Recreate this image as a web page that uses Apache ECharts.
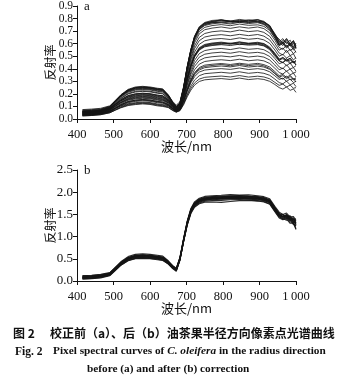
<!DOCTYPE html>
<html>
<head>
<meta charset="utf-8">
<script src="https://cdn.jsdelivr.net/npm/echarts@6/dist/echarts.min.js"></script>
<style>
  html, body { margin: 0; padding: 0; background: #fff; }
  #chart { width: 350px; height: 387px; }
</style>
</head>
<body>
<div id="chart"></div>
<script>
// Sampling wavelengths (nm) shared by every spectrum
const wavelengths = [415, 440, 465, 490, 505, 520, 540, 560, 580, 600, 620, 635, 650, 662, 672, 682, 692, 702, 712, 722, 735, 750, 770, 795, 820, 845, 870, 895, 912, 928, 942, 954, 964, 974, 984, 993, 1000];

// Panel a: pixel spectra before correction (reflectance)
const curvesA = [
  [.070,.074,.080,.100,.147,.193,.236,.255,.260,.255,.245,.240,.193,.134,.100,.128,.252,.417,.555,.659,.735,.769,.785,.790,.780,.793,.784,.791,.778,.742,.679,.615,.640,.600,.628,.575,.605],
  [.060,.064,.070,.095,.142,.188,.231,.250,.255,.250,.240,.235,.188,.129,.095,.123,.247,.412,.550,.654,.730,.764,.778,.787,.781,.776,.790,.782,.773,.738,.675,.630,.605,.640,.598,.622,.585],
  [.075,.079,.085,.105,.147,.189,.228,.245,.250,.245,.235,.230,.191,.140,.110,.137,.257,.418,.552,.653,.726,.760,.772,.783,.775,.781,.770,.779,.770,.733,.671,.600,.625,.610,.590,.615,.565],
  [.050,.055,.062,.090,.135,.180,.222,.240,.244,.241,.230,.226,.180,.123,.090,.117,.241,.405,.542,.645,.720,.754,.768,.772,.778,.768,.779,.773,.762,.728,.668,.612,.585,.625,.580,.605,.560],
  [.065,.068,.075,.100,.140,.181,.219,.235,.240,.236,.225,.220,.181,.130,.100,.127,.246,.406,.539,.639,.712,.745,.758,.766,.757,.770,.760,.767,.752,.718,.660,.590,.615,.578,.605,.565,.585],
  [.060,.063,.070,.090,.132,.174,.213,.230,.235,.231,.220,.215,.174,.121,.090,.116,.235,.394,.526,.625,.697,.730,.744,.752,.743,.756,.746,.750,.738,.705,.645,.585,.600,.565,.590,.550,.570],
  [.055,.058,.065,.085,.126,.166,.204,.220,.225,.221,.210,.205,.166,.115,.085,.111,.227,.382,.511,.607,.678,.711,.724,.733,.722,.734,.724,.733,.720,.686,.628,.570,.555,.590,.545,.565,.530],
  [.050,.054,.060,.080,.120,.161,.199,.215,.220,.216,.205,.200,.161,.110,.080,.105,.216,.365,.489,.582,.650,.681,.695,.702,.694,.708,.696,.703,.690,.658,.602,.548,.565,.530,.555,.520,.540],
  [.060,.063,.068,.085,.120,.154,.186,.200,.205,.201,.190,.185,.156,.114,.090,.113,.218,.357,.473,.560,.624,.653,.665,.672,.663,.674,.664,.673,.660,.630,.576,.525,.510,.548,.505,.520,.480],
  [.045,.048,.055,.075,.110,.144,.176,.190,.195,.191,.180,.175,.144,.100,.075,.098,.199,.335,.448,.533,.595,.623,.636,.641,.633,.646,.635,.642,.630,.602,.550,.500,.515,.485,.505,.470,.490],
  [.050,.053,.060,.080,.116,.152,.186,.200,.205,.201,.190,.185,.152,.106,.080,.101,.197,.324,.430,.509,.568,.594,.605,.612,.603,.614,.604,.611,.601,.573,.525,.478,.490,.465,.485,.450,.465],
  [.040,.044,.050,.070,.102,.133,.162,.175,.180,.176,.165,.160,.133,.093,.070,.091,.187,.314,.420,.499,.558,.584,.596,.602,.596,.604,.594,.603,.591,.564,.516,.474,.480,.462,.470,.448,.455],
  [.055,.058,.064,.085,.115,.145,.173,.185,.190,.186,.175,.170,.145,.107,.085,.105,.197,.320,.422,.498,.554,.580,.590,.596,.603,.592,.600,.595,.586,.559,.512,.465,.450,.482,.448,.460,.430],
  [.040,.043,.050,.070,.100,.130,.158,.170,.175,.171,.160,.155,.130,.092,.070,.090,.178,.295,.393,.467,.521,.545,.556,.562,.553,.566,.555,.561,.552,.526,.482,.440,.452,.425,.445,.410,.425],
  [.035,.038,.045,.065,.094,.122,.149,.160,.165,.161,.150,.145,.122,.086,.065,.084,.167,.279,.372,.442,.493,.516,.526,.532,.524,.536,.525,.531,.522,.498,.456,.415,.400,.432,.398,.410,.380],
  [.045,.048,.055,.075,.102,.129,.154,.165,.170,.166,.155,.150,.129,.095,.075,.092,.169,.271,.356,.419,.466,.487,.496,.502,.495,.506,.494,.501,.493,.470,.430,.392,.405,.380,.398,.365,.375],
  [.030,.034,.040,.060,.087,.114,.139,.150,.155,.151,.140,.135,.114,.080,.060,.076,.150,.249,.331,.392,.437,.458,.466,.472,.465,.476,.464,.471,.463,.442,.404,.370,.358,.382,.352,.365,.335],
  [.035,.038,.044,.060,.086,.111,.135,.145,.150,.146,.135,.130,.113,.083,.065,.080,.148,.238,.313,.369,.410,.429,.436,.442,.434,.444,.435,.443,.433,.414,.378,.345,.355,.332,.348,.318,.328],
  [.030,.033,.040,.055,.081,.106,.130,.140,.145,.141,.130,.125,.108,.078,.060,.074,.139,.226,.298,.352,.391,.409,.416,.422,.415,.426,.414,.421,.414,.395,.361,.330,.318,.342,.312,.322,.295],
  [.040,.043,.049,.065,.085,.104,.122,.130,.135,.131,.120,.115,.106,.083,.070,.083,.143,.222,.288,.337,.374,.390,.396,.401,.395,.406,.394,.401,.394,.376,.344,.315,.325,.300,.318,.290,.300],
  [.025,.028,.035,.050,.071,.092,.112,.120,.125,.121,.110,.105,.094,.069,.055,.068,.124,.200,.263,.310,.345,.361,.366,.372,.365,.376,.364,.371,.364,.348,.318,.290,.280,.302,.272,.285,.258],
  [.030,.033,.040,.055,.076,.097,.117,.125,.130,.126,.115,.110,.099,.074,.060,.071,.122,.189,.245,.287,.318,.332,.337,.342,.335,.346,.334,.341,.335,.320,.292,.268,.278,.255,.270,.245,.250],
  [.025,.028,.034,.050,.070,.089,.107,.115,.120,.116,.105,.100,.091,.068,.055,.066,.113,.177,.230,.270,.299,.312,.317,.322,.315,.326,.314,.321,.315,.300,.275,.250,.238,.255,.228,.240,.212],
  [.065,.069,.075,.095,.142,.188,.231,.250,.255,.250,.240,.235,.190,.133,.100,.127,.250,.414,.550,.652,.727,.762,.776,.790,.775,.786,.779,.792,.770,.745,.660,.635,.598,.640,.595,.625,.570],
  [.055,.059,.066,.090,.136,.183,.226,.245,.250,.246,.235,.230,.185,.128,.095,.122,.244,.406,.541,.642,.716,.750,.766,.772,.765,.778,.768,.774,.758,.716,.648,.588,.610,.572,.598,.565,.580],
  [.050,.053,.059,.080,.115,.149,.181,.195,.200,.196,.185,.180,.149,.105,.080,.101,.196,.322,.427,.505,.563,.589,.600,.608,.598,.612,.600,.606,.598,.565,.515,.465,.490,.470,.482,.450,.465],
  [.045,.048,.055,.075,.107,.138,.167,.180,.185,.181,.170,.165,.138,.098,.075,.096,.188,.312,.415,.492,.549,.575,.585,.592,.585,.596,.588,.592,.582,.552,.500,.462,.448,.470,.440,.458,.430],
  [.035,.038,.044,.060,.087,.114,.139,.150,.155,.151,.140,.135,.116,.084,.065,.080,.145,.233,.306,.361,.401,.419,.426,.434,.424,.436,.425,.433,.423,.402,.365,.335,.345,.322,.338,.312,.318]
];

// Panel b: the same pixels after correction
const curvesB = [
  [.10,.11,.13,.18,.306,.432,.550,.600,.610,.600,.580,.560,.456,.344,.280,.528,.957,1.353,1.633,1.782,1.864,1.905,1.92,1.93,1.945,1.935,1.94,1.92,1.90,1.85,1.68,1.55,1.50,1.53,1.44,1.45,1.36],
  [.08,.09,.11,.16,.286,.412,.530,.580,.590,.580,.560,.540,.436,.324,.260,.508,.937,1.333,1.613,1.762,1.844,1.885,1.90,1.915,1.92,1.925,1.91,1.90,1.88,1.83,1.66,1.52,1.49,1.45,1.47,1.38,1.40],
  [.12,.13,.15,.19,.304,.418,.524,.570,.580,.570,.550,.530,.444,.346,.290,.532,.950,1.337,1.610,1.755,1.836,1.876,1.89,1.90,1.91,1.915,1.905,1.89,1.87,1.82,1.65,1.50,1.46,1.50,1.40,1.42,1.30],
  [.06,.07,.09,.14,.266,.392,.510,.560,.570,.560,.540,.520,.421,.312,.250,.496,.922,1.316,1.595,1.742,1.824,1.865,1.88,1.89,1.90,1.90,1.895,1.88,1.86,1.81,1.64,1.51,1.45,1.48,1.43,1.35,1.36],
  [.09,.10,.12,.17,.284,.398,.504,.550,.560,.550,.530,.510,.424,.326,.270,.512,.930,1.317,1.590,1.735,1.816,1.856,1.87,1.88,1.895,1.89,1.885,1.87,1.85,1.80,1.62,1.48,1.50,1.42,1.45,1.33,1.30],
  [.05,.06,.08,.13,.253,.376,.491,.540,.550,.540,.520,.500,.401,.292,.230,.476,.902,1.296,1.575,1.722,1.804,1.845,1.86,1.87,1.88,1.885,1.875,1.86,1.84,1.79,1.62,1.49,1.44,1.47,1.38,1.40,1.26],
  [.11,.12,.14,.18,.285,.390,.488,.530,.540,.530,.510,.490,.409,.314,.260,.500,.916,1.300,1.572,1.716,1.796,1.836,1.85,1.86,1.87,1.875,1.865,1.85,1.83,1.78,1.61,1.47,1.42,1.45,1.36,1.35,1.28],
  [.07,.08,.10,.15,.261,.372,.476,.520,.530,.520,.500,.480,.394,.296,.240,.482,.900,1.287,1.560,1.705,1.786,1.826,1.84,1.85,1.86,1.865,1.855,1.84,1.82,1.77,1.60,1.46,1.45,1.40,1.41,1.30,1.24],
  [.04,.05,.07,.12,.237,.354,.463,.510,.520,.510,.490,.470,.380,.278,.220,.463,.884,1.273,1.548,1.694,1.775,1.816,1.83,1.84,1.85,1.855,1.845,1.83,1.81,1.76,1.59,1.45,1.39,1.43,1.33,1.32,1.18],
  [.08,.09,.11,.14,.248,.356,.457,.500,.510,.500,.480,.460,.388,.300,.250,.486,.894,1.271,1.537,1.679,1.757,1.796,1.81,1.815,1.83,1.835,1.825,1.81,1.79,1.74,1.57,1.44,1.41,1.37,1.38,1.27,1.24],
  [.06,.07,.09,.13,.256,.382,.500,.550,.560,.550,.530,.510,.411,.302,.240,.474,.880,1.254,1.519,1.660,1.738,1.777,1.78,1.77,1.79,1.81,1.815,1.80,1.78,1.73,1.56,1.42,1.38,1.40,1.30,1.30,1.16],
  [.09,.10,.12,.16,.283,.406,.521,.570,.580,.570,.550,.530,.435,.330,.270,.510,.926,1.310,1.582,1.726,1.806,1.846,1.86,1.875,1.87,1.88,1.87,1.86,1.84,1.79,1.62,1.50,1.45,1.48,1.40,1.38,1.32]
];

// Axis ticks and labels
const xTicks = [400, 500, 600, 700, 800, 900, 1000];
const xTickLabels = ['400', '500', '600', '700', '800', '900', '1\u2009000'];
const yTicksA = [0, 0.1, 0.2, 0.3, 0.4, 0.5, 0.6, 0.7, 0.8, 0.9];
const yTicksB = [0, 0.5, 1.0, 1.5, 2.0, 2.5];

const SERIF = '"Liberation Serif", "DejaVu Serif", serif';
const CJK = '"Noto Sans CJK SC", sans-serif';
const INK = '#111';

function xAxisCfg(gridIndex) {
  return {
    type: 'value', gridIndex,
    min: xTicks[0], max: xTicks[xTicks.length - 1], interval: 100,
    name: '波长/nm', nameLocation: 'middle', nameGap: 21, nameMoveOverlap: false,
    nameTextStyle: { fontFamily: CJK, fontSize: 13, color: INK },
    axisLine: { lineStyle: { color: INK, width: 1 } },
    axisTick: { length: 4, lineStyle: { color: INK } },
    splitLine: { show: false },
    axisLabel: {
      fontFamily: SERIF, fontSize: 12.5, color: INK, margin: 9,
      showMinLabel: true, showMaxLabel: true, hideOverlap: false,
      formatter: v => xTickLabels[xTicks.indexOf(v)] || ''
    }
  };
}

function yAxisCfg(gridIndex, ticks, fontSize) {
  const step = ticks[1] - ticks[0];
  return {
    type: 'value', gridIndex,
    min: ticks[0], max: ticks[ticks.length - 1], interval: step,
    name: '反射率', nameLocation: 'middle', nameRotate: 90, nameGap: 21, nameMoveOverlap: false,
    nameTextStyle: { fontFamily: CJK, fontSize: 12, color: INK },
    axisLine: { show: true, lineStyle: { color: INK, width: 1 } },
    axisTick: { show: true, length: 4, lineStyle: { color: INK } },
    splitLine: { show: false },
    axisLabel: {
      fontFamily: SERIF, fontSize, color: INK, margin: 4,
      showMinLabel: true, showMaxLabel: true, hideOverlap: false,
      formatter: v => v.toFixed(1)
    }
  };
}

function toSeries(curves, idx, width, color) {
  return curves.map(c => ({
    type: 'line', xAxisIndex: idx, yAxisIndex: idx,
    data: wavelengths.map((w, i) => [w, c[i]]),
    showSymbol: false, silent: true, smooth: false,
    lineStyle: { width, color }
  }));
}

const chart = echarts.init(document.getElementById('chart'), null, { renderer: 'canvas' });
chart.setOption({
  animation: false,
  backgroundColor: '#fff',
  grid: [
    { left: 77, right: 54, top: 6, height: 113 },
    { left: 77, right: 54, top: 170, height: 111 }
  ],
  xAxis: [xAxisCfg(0), xAxisCfg(1)],
  yAxis: [yAxisCfg(0, yTicksA, 11.5), yAxisCfg(1, yTicksB, 13)],
  series: [
    ...toSeries(curvesA, 0, 0.9, 'rgba(20,20,20,0.9)'),
    ...toSeries(curvesB, 1, 1.1, 'rgba(20,20,20,0.9)')
  ],
  graphic: [
    { type: 'text', left: 84, top: 0, style: { text: 'a', font: '13px ' + SERIF, fill: INK } },
    { type: 'text', left: 84, top: 164, style: { text: 'b', font: '13px ' + SERIF, fill: INK } },
    { type: 'text', left: 13, top: 327, style: { text: '图 2', font: 'bold 12px ' + CJK, fill: INK } },
    { type: 'text', left: 50, top: 327, style: { text: '校正前（a）、后（b）油茶果半径方向像素点光谱曲线', font: 'bold 12px ' + CJK, fill: INK } },
    { type: 'text', left: 15, top: 346, style: { text: 'Fig. 2', font: 'bold 11.5px ' + SERIF, fill: INK } },
    {
      type: 'text', left: 53, top: 346,
      style: {
        text: '{n|Pixel spectral curves of }{i|C. oleifera}{n| in the radius direction}',
        rich: {
          n: { font: 'bold 11.3px ' + SERIF, fill: INK },
          i: { font: 'italic bold 11.3px ' + SERIF, fill: INK }
        }
      }
    },
    { type: 'text', left: 87, top: 364, style: { text: 'before (a) and after (b) correction', font: 'bold 11.3px ' + SERIF, fill: INK } }
  ]
});
</script>
</body>
</html>
